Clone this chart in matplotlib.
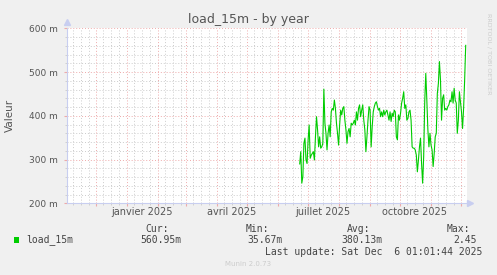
import numpy as np
import pandas as pd
import matplotlib
matplotlib.use("Agg")
import matplotlib.pyplot as plt
import matplotlib.dates as mdates
from matplotlib.transforms import blended_transform_factory

# ── Data (daily averages, milli-load) ─────────────────────────────────────────
load = [290, 318, 246, 261, 337, 349, 299, 291, 345, 379, 303, 310, 314, 318,
        299, 352, 398, 368, 329, 352, 326, 329, 337, 461, 383, 360, 322, 360,
        379, 352, 409, 417, 413, 436, 417, 383, 360, 333, 379, 413, 402, 417,
        421, 390, 368, 337, 364, 371, 352, 383, 379, 383, 390, 379, 409, 390,
        417, 425, 398, 413, 425, 390, 368, 318, 352, 390, 421, 413, 329, 375,
        409, 421, 429, 432, 421, 413, 417, 398, 409, 398, 413, 402, 409, 413,
        402, 390, 409, 387, 406, 398, 413, 409, 352, 345, 402, 390, 406, 429,
        440, 455, 417, 425, 390, 394, 409, 413, 390, 329, 326, 326, 322, 310,
        272, 299, 329, 349, 291, 246, 307, 432, 497, 436, 368, 329, 360, 333,
        322, 284, 314, 352, 360, 451, 474, 524, 482, 390, 440, 448, 413, 417,
        413, 421, 425, 436, 432, 455, 429, 463, 436, 429, 360, 390, 455, 432,
        409, 371, 417, 482, 561]
data_start = "2025-06-23"
data_end = "2025-12-06"

x_start = pd.Timestamp("2024-11-02")
x_days = 400.3
month_labels = ["janvier 2025", "avril 2025", "juillet 2025", "octobre 2025"]
label_months = ["2025-01-01", "2025-04-01", "2025-07-01", "2025-10-01"]

cur, vmin, avg, vmax = "560.95m", "35.67m", "380.13m", "2.45"
last_update = "Last update: Sat Dec  6 01:01:44 2025"

# ── Style ─────────────────────────────────────────────────────────────────────
W, H = 497, 275
BG = "#f0f0f0"
MAJ = "#eeaaaa"
MIN = "#cccccc"
AXC = "#c8cef0"
TXT = "#555555"
GREEN = "#00cc00"

fig = plt.figure(figsize=(W / 100, H / 100), dpi=100, facecolor=BG)
left, right, top, bottom = 66.7, 467.0, 28.3, 203.3
ax = fig.add_axes([left / W, 1 - bottom / H, (right - left) / W, (bottom - top) / H])
ax.set_facecolor("white")

x0 = mdates.date2num(x_start)
x1 = x0 + x_days

# grid
dot = (0, (1, 2))
month_starts = pd.date_range("2024-12-01", "2025-12-01", freq="MS")
minor_days = [d for m in pd.date_range("2024-11-01", "2025-12-01", freq="MS")
              for d in (m + pd.Timedelta(days=7), m + pd.Timedelta(days=15), m + pd.Timedelta(days=23))]
minor_days = [d for d in minor_days if x0 < mdates.date2num(d) < x1]
for d in minor_days:
    ax.axvline(mdates.date2num(d), color=MIN, lw=0.7, ls=dot, zorder=1)
for v in range(220, 600, 20):
    if v % 100:
        ax.axhline(v, color=MIN, lw=0.7, ls=dot, zorder=1)
for d in month_starts:
    ax.axvline(mdates.date2num(d), color=MAJ, lw=0.7, ls=dot, zorder=2)
for v in range(300, 601, 100):
    ax.axhline(v, color=MAJ, lw=0.7, ls=dot, zorder=2)

# ticks
ax.set_xticks([mdates.date2num(d) for d in month_starts])
ax.set_xticks([mdates.date2num(d) for d in minor_days], minor=True)
ax.tick_params(axis="x", which="major", length=2.5, color=MAJ, labelbottom=False)
ax.tick_params(axis="x", which="minor", length=1.5, color=MIN)
ax.set_yticks(range(200, 601, 100))
ax.set_yticklabels([f"{v} m" for v in range(200, 601, 100)])
ax.set_yticks(range(220, 600, 20), minor=True)
ax.tick_params(axis="y", which="major", length=2.5, color=MAJ, labelsize=6.5,
               labelcolor=TXT, pad=4)
ax.tick_params(axis="y", which="minor", length=1.5, color=MIN)
ax.set_xlim(x0, x1)
ax.set_ylim(200, 600)

# month labels, centred in their month
tr = blended_transform_factory(ax.transData, fig.transFigure)
for lab, m in zip(month_labels, label_months):
    mid = mdates.date2num(pd.Timestamp(m) + pd.Timedelta(days=15))
    ax.text(mid, 1 - 212 / H, lab, transform=tr, ha="center", va="center",
            fontsize=7, color=TXT)

for s in ["top", "right"]:
    ax.spines[s].set_visible(False)
for s in ["left", "bottom"]:
    ax.spines[s].set_color(AXC)
    ax.spines[s].set_linewidth(0.8)
    ax.spines[s].set_zorder(3)
ax.plot([0], [1.035], marker="^", ms=4, color=AXC, transform=ax.transAxes, clip_on=False)
ax.plot([1.008], [0], marker=">", ms=4, color=AXC, transform=ax.transAxes, clip_on=False)

# series
dates = pd.date_range(data_start, data_end, periods=len(load))
ax.plot(mdates.date2num(dates), load, color=GREEN, lw=0.8, zorder=4)
ax.set_xlim(x0, x1)
ax.set_ylim(200, 600)

# ── Texts ─────────────────────────────────────────────────────────────────────
def ftext(x, y, s, **kw):
    fig.text(x / W, 1 - y / H, s, **kw)

ftext(248.5, 19, "load_15m - by year", ha="center", va="center", fontsize=9, color=TXT)
ftext(10, 115, "Valeur", ha="center", va="center", rotation=90, fontsize=7.5, color=TXT)
ftext(489, 54, "RRDTOOL / TOBI OETIKER", ha="center", va="center", rotation=270,
      fontsize=4.6, color="#cccccc")

mono = dict(family="DejaVu Sans Mono", fontsize=7, color="#444444", va="center")
ftext(145.3, 229, "Cur:", ha="left", **mono)
ftext(246, 229, "Min:", ha="left", **mono)
ftext(346.7, 229, "Avg:", ha="left", **mono)
ftext(446.7, 229, "Max:", ha="left", **mono)
ftext(26.7, 240, "load_15m", ha="left", **mono)
ftext(181, 240, cur, ha="right", **mono)
ftext(282.7, 240, vmin, ha="right", **mono)
ftext(382, 240, avg, ha="right", **mono)
ftext(476.7, 240, vmax, ha="right", **mono)
ftext(482.3, 252, last_update, ha="right", **mono)
fig.patches.append(plt.Rectangle((14 / W, 1 - 242.5 / H), 5.3 / W, 5.3 / H,
                                 transform=fig.transFigure, color=GREEN, lw=0))
ftext(248, 264, "Munin 2.0.73", ha="center", va="center", fontsize=5, color="#cccccc")

fig.savefig("out.png", dpi=100, facecolor=BG)
